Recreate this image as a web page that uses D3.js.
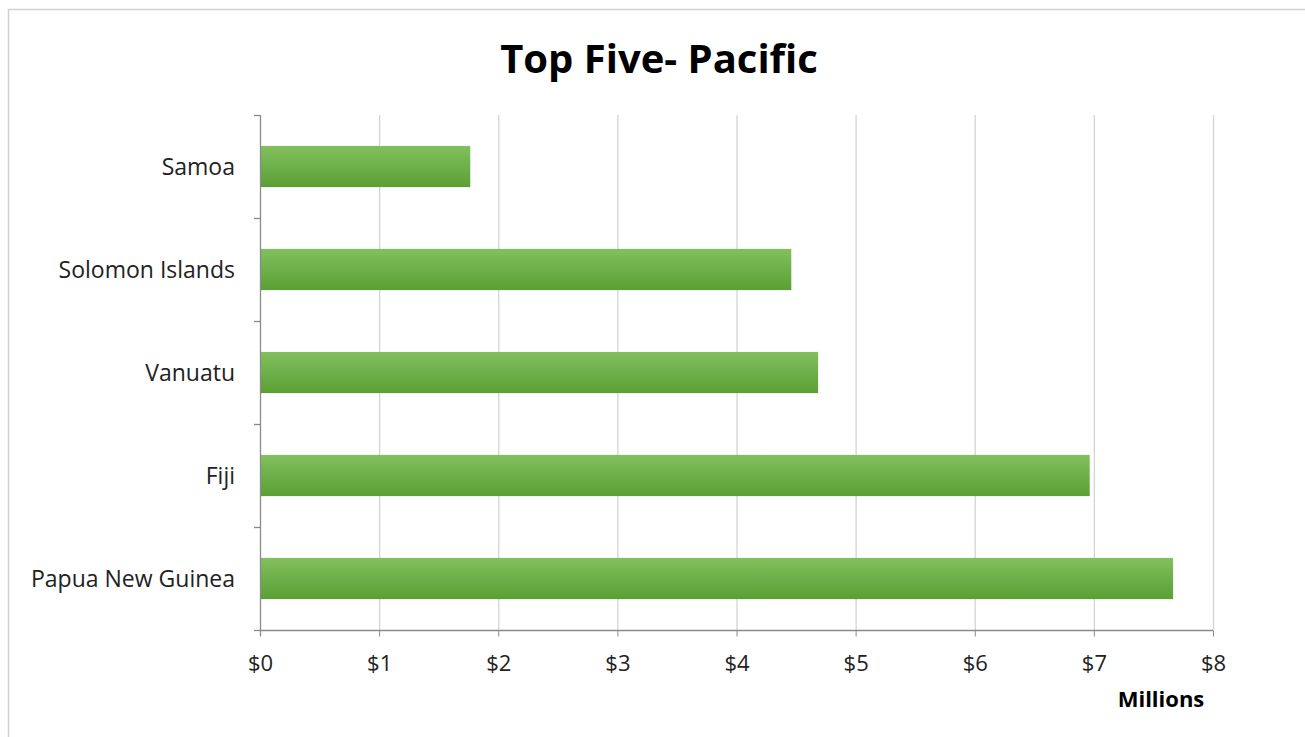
<!DOCTYPE html>
<html><head><meta charset="utf-8">
<script src="https://cdn.jsdelivr.net/npm/d3@7"></script>
<style>body{margin:0;background:#fff;}svg{display:block;}</style>
</head><body>
<script>
const categories = ["Samoa","Solomon Islands","Vanuatu","Fiji","Papua New Guinea"];
const values = [1.765, 4.46, 4.685, 6.965, 7.665];
const tickValues = [0,1,2,3,4,5,6,7,8];
const tickLabels = ["$0","$1","$2","$3","$4","$5","$6","$7","$8"];
const title = "Top Five- Pacific";
const axisTitle = "Millions";

const W = 1305, H = 737;
const m = {left:260, right:W-1213, top:115, bottom:H-630};
const svg = d3.select("body").append("svg").attr("width",W).attr("height",H);
const font = "'Open Sans', Lato, sans-serif";

// frame
svg.append("path").attr("d",`M8.5,${H} V9.5 H${W}`).attr("fill","none").attr("stroke","#d0d0d0").attr("stroke-width",1.5);

const defs = svg.append("defs");
const g1 = defs.append("linearGradient").attr("id","bg").attr("x1",0).attr("y1",0).attr("x2",0).attr("y2",1);
g1.append("stop").attr("offset","0%").attr("stop-color","#82c05e");
g1.append("stop").attr("offset","100%").attr("stop-color","#5a9f34");

const x = d3.scaleLinear().domain([0,8]).range([m.left, W-m.right]);
const y = d3.scaleBand().domain(categories).range([m.top, H-m.bottom]).paddingInner(0.6).paddingOuter(0.3);

// gridlines
svg.append("g").selectAll("line").data(tickValues.slice(1)).join("line")
  .attr("x1",d=>x(d)+0.5).attr("x2",d=>x(d)+0.5).attr("y1",m.top).attr("y2",H-m.bottom)
  .attr("stroke","#d4d4d4").attr("stroke-width",1.3);

// bars
svg.append("g").selectAll("rect").data(categories).join("rect")
  .attr("x",x(0)).attr("y",d=>y(d)).attr("height",y.bandwidth())
  .attr("width",(d,i)=>x(values[i])-x(0)).attr("fill","url(#bg)");

// x axis
const xa = svg.append("g").attr("transform",`translate(0,${H-m.bottom+0.5})`)
  .call(d3.axisBottom(x).tickValues(tickValues).tickFormat((d,i)=>tickLabels[i]).tickSize(6).tickPadding(19));
xa.select(".domain").attr("stroke","#8a8a8a").attr("stroke-width",1.3).attr("d",`M${x(0)},0H${x(8)}`);
xa.selectAll(".tick line").attr("stroke","#8a8a8a");
xa.selectAll("text").attr("font-family",font).attr("font-size",22).attr("fill","#222");

// y axis
const boundaries = d3.range(categories.length+1).map(i=>m.top + i*(H-m.bottom-m.top)/categories.length);
const ya = svg.append("g");
ya.append("line").attr("x1",x(0)+0.5).attr("x2",x(0)+0.5).attr("y1",m.top).attr("y2",H-m.bottom+6).attr("stroke","#8a8a8a").attr("stroke-width",1.3);
ya.selectAll("line.t").data(boundaries).join("line").attr("class","t")
  .attr("x1",x(0)-6).attr("x2",x(0)).attr("y1",d=>d+0.5).attr("y2",d=>d+0.5).attr("stroke","#8a8a8a").attr("stroke-width",1.3);
ya.selectAll("text").data(categories).join("text")
  .attr("x",x(0)-25).attr("y",d=>y(d)+y.bandwidth()/2).attr("dy","0.35em")
  .attr("text-anchor","end").attr("font-family",font).attr("font-size",23).attr("fill","#222").text(d=>d);

// title
svg.append("text").attr("x",659).attr("y",73).attr("text-anchor","middle")
  .attr("font-family",font).attr("font-weight","bold").attr("font-size",40).attr("fill","#000").text(title);
svg.append("text").attr("x",1161).attr("y",707).attr("text-anchor","middle")
  .attr("font-family",font).attr("font-weight","bold").attr("font-size",22).attr("fill","#000").text(axisTitle);
</script>
</body></html>
